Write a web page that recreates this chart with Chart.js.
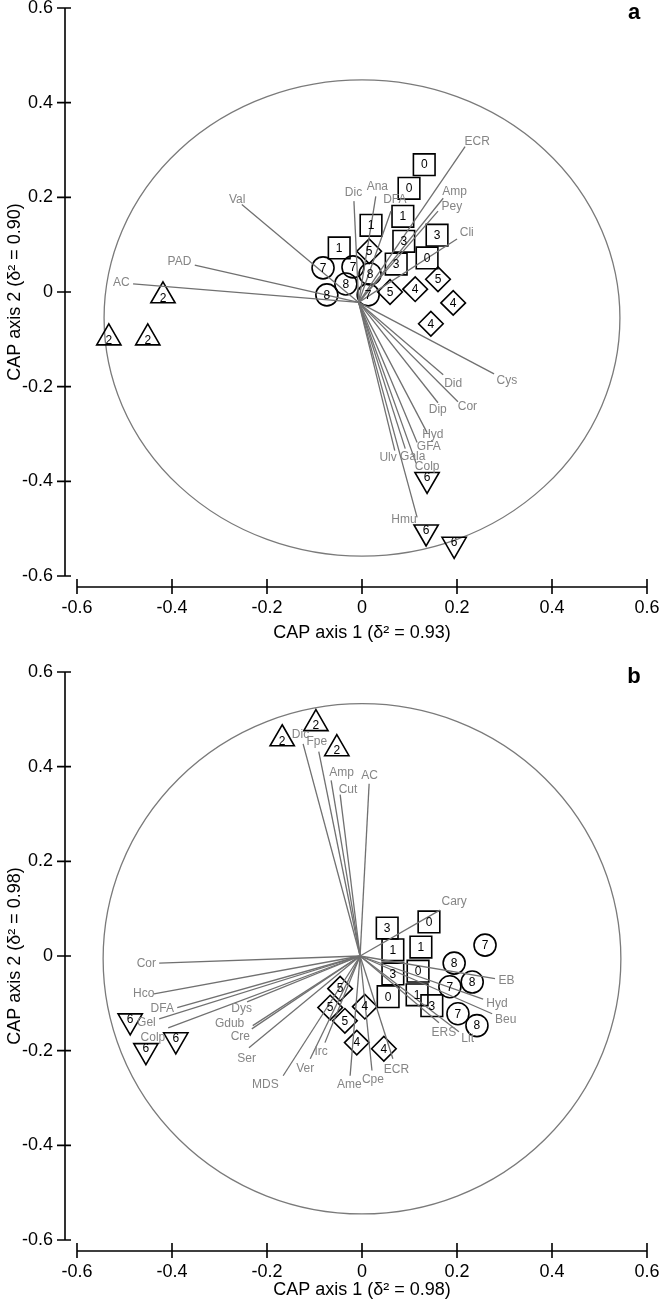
<!DOCTYPE html>
<html>
<head>
<meta charset="utf-8">
<script src="https://cdn.jsdelivr.net/npm/chart.js@4.4.1/dist/chart.umd.min.js"></script>
<style>
  html, body { margin: 0; padding: 0; background: #fff; overflow: hidden; }
  .panel { position: relative; width: 660px; }
  #panelA { height: 664px; }
  #panelB { height: 641px; }
</style>
</head>
<body>
<div class="panel" id="panelA"><canvas id="chartA"></canvas></div>
<div class="panel" id="panelB"><canvas id="chartB"></canvas></div>
<script>
// ---------- panel a ----------
var aSquareX = [0.131, 0.099, 0.086, 0.019, -0.048, 0.088, 0.158, 0.137, 0.072];
var aSquareY = [0.269, 0.219, 0.160, 0.141, 0.093, 0.107, 0.120, 0.072, 0.059];
var aSquareLab = ['0', '0', '1', '1', '1', '3', '3', '0', '3'];
var aDiamondX = [0.015, 0.059, 0.112, 0.160, 0.192, 0.145];
var aDiamondY = [0.086, 0.000, 0.006, 0.027, -0.023, -0.067];
var aDiamondLab = ['5', '5', '4', '5', '4', '4'];
var aCircleX = [-0.082, -0.019, -0.034, 0.017, -0.074, 0.013];
var aCircleY = [0.051, 0.053, 0.017, 0.038, -0.006, -0.006];
var aCircleLab = ['7', '7', '8', '8', '8', '7'];
var aTriUpX = [-0.419, -0.533, -0.451];
var aTriUpY = [-0.008, -0.097, -0.097];
var aTriUpLab = ['2', '2', '2'];
var aTriDownX = [0.137, 0.135, 0.194];
var aTriDownY = [-0.396, -0.507, -0.533];
var aTriDownLab = ['6', '6', '6'];
var aVecNames = ['Val', 'PAD', 'AC', 'Dic', 'Ana', 'DFA', 'ECR', 'Amp', 'Pey', 'Cli',
                 'Cys', 'Did', 'Cor', 'Dip', 'Hyd', 'GFA', 'Gala', 'Ulv', 'Colp', 'Hmu'];
var aVecX = [-0.253, -0.352, -0.482, -0.017, 0.029, 0.061, 0.217, 0.171, 0.160, 0.200,
             0.278, 0.171, 0.202, 0.160, 0.137, 0.116, 0.091, 0.069, 0.114, 0.116];
var aVecY = [0.185, 0.057, 0.017, 0.192, 0.202, 0.171, 0.307, 0.198, 0.171, 0.112,
             -0.173, -0.175, -0.232, -0.234, -0.297, -0.318, -0.331, -0.335, -0.362, -0.476];
var aOrigin = [-0.007, -0.022];

// ---------- panel b ----------
var bSquareX = [0.053, 0.141, 0.065, 0.124, 0.065, 0.118, 0.055, 0.116, 0.147];
var bSquareY = [0.059, 0.072, 0.013, 0.019, -0.038, -0.032, -0.086, -0.082, -0.105];
var bSquareLab = ['3', '0', '1', '1', '3', '0', '0', '1', '3'];
var bDiamondX = [-0.046, -0.067, -0.036, 0.006, -0.011, 0.046];
var bDiamondY = [-0.069, -0.109, -0.137, -0.107, -0.183, -0.196];
var bDiamondLab = ['5', '5', '5', '4', '4', '4'];
var bCircleX = [0.259, 0.194, 0.232, 0.185, 0.202, 0.242];
var bCircleY = [0.023, -0.015, -0.055, -0.065, -0.122, -0.147];
var bCircleLab = ['7', '8', '8', '7', '7', '8'];
var bTriUpX = [-0.168, -0.097, -0.053];
var bTriUpY = [0.459, 0.491, 0.438];
var bTriUpLab = ['2', '2', '2'];
var bTriDownX = [-0.488, -0.455, -0.392];
var bTriDownY = [-0.137, -0.200, -0.177];
var bTriDownLab = ['6', '6', '6'];
var bVecNames = ['Dic', 'Fpe', 'Amp', 'Cut', 'AC', 'Cary', 'EB', 'Hyd', 'Beu', 'Lit', 'ERS',
                 'ECR', 'Cpe', 'Ame', 'Irc', 'Ver', 'MDS', 'Ser', 'Cre', 'Gdub', 'Dys',
                 'Colp', 'Gel', 'DFA', 'Hco', 'Cor'];
var bVecX = [-0.124, -0.091, -0.065, -0.046, 0.015, 0.164, 0.280, 0.255, 0.274, 0.204, 0.162,
             0.065, 0.021, -0.025, -0.078, -0.109, -0.166, -0.238, -0.232, -0.230, -0.242,
             -0.408, -0.427, -0.389, -0.438, -0.427];
var bVecY = [0.448, 0.432, 0.371, 0.341, 0.364, 0.097, -0.048, -0.091, -0.122, -0.160, -0.141,
             -0.217, -0.242, -0.253, -0.183, -0.217, -0.253, -0.194, -0.154, -0.147, -0.097,
             -0.152, -0.133, -0.109, -0.080, -0.015];
var bOrigin = [-0.004, 0.0];

var FONT = "'Liberation Sans', Arial, sans-serif";

// small pixel nudges for crowded vector labels
var aNudge = { Val: [5, 3], ECR: [4, 7], Amp: [2, 5], Pey: [5, 6], Cor: [0, -5], Dip: [-8, -3],
               Hyd: [0, -9], GFA: [7, -7], Gala: [4, -3], Ulv: [-9, -3], Colp: [7, -8], Hmu: [-16, -8] };
var bNudge = { Amp: [12, 2], Cut: [9, 4], ERS: [-7, 0], Colp: [0, 4], DFA: [0, -3], Hco: [4, -3],
               Gdub: [-8, -12], Ser: [8, 2], Dys: [8, 1], MDS: [-10, -3] };

function pts(xs, ys) {
    return xs.map(function (x, i) { return { x: x, y: ys[i] }; });
}

function markerSet(xs, ys, labs, style, radius, rotation) {
    return {
        type: 'scatter',
        data: pts(xs, ys),
        numbers: labs,
        pointStyle: style,
        pointRadius: radius,
        pointRotation: rotation || 0,
        borderColor: '#000',
        backgroundColor: 'rgba(0,0,0,0)',
        borderWidth: 1.6,
        clip: false
    };
}

function vectorSets(names, xs, ys, origin) {
    return names.map(function (n, i) {
        return {
            type: 'line',
            data: [{ x: origin[0], y: origin[1] }, { x: xs[i], y: ys[i] }],
            vecLabel: n,
            borderColor: '#707070',
            borderWidth: 1.3,
            pointRadius: 0,
            fill: false,
            clip: false
        };
    });
}

// ellipse, detached axes, panel letter, labels
var decoPlugin = {
    id: 'deco',
    beforeDatasetsDraw: function (chart, args, opts) {
        var ctx = chart.ctx, x = chart.scales.x, y = chart.scales.y;
        var cx = x.getPixelForValue(opts.cx), cy = y.getPixelForValue(opts.cy);
        var rx = x.getPixelForValue(opts.cx + opts.rx) - cx;
        var ry = cy - y.getPixelForValue(opts.cy + opts.ry);
        ctx.save();
        ctx.strokeStyle = '#7a7a7a';
        ctx.lineWidth = 1.3;
        ctx.beginPath();
        ctx.ellipse(cx, cy, rx, ry, 0, 0, Math.PI * 2);
        ctx.stroke();
        ctx.restore();
    },
    afterDatasetsDraw: function (chart, args, opts) {
        var ctx = chart.ctx;
        var nudge = opts.nudge || {};
        ctx.save();
        // vector labels
        ctx.font = '12px ' + FONT;
        ctx.fillStyle = '#858585';
        ctx.textAlign = 'center';
        ctx.textBaseline = 'middle';
        chart.data.datasets.forEach(function (ds, di) {
            if (!ds.vecLabel) return;
            var m = chart.getDatasetMeta(di).data;
            var dx = m[1].x - m[0].x, dy = m[1].y - m[0].y;
            var len = Math.sqrt(dx * dx + dy * dy) || 1;
            var ux = dx / len, uy = dy / len;
            var w = ctx.measureText(ds.vecLabel).width;
            var gap = 3 + 0.5 * Math.abs(ux) * w + 0.5 * Math.abs(uy) * 10;
            var n = nudge[ds.vecLabel] || [0, 0];
            ctx.fillText(ds.vecLabel, m[1].x + ux * gap + n[0], m[1].y + uy * gap + n[1]);
        });
        // numbers inside the markers
        ctx.fillStyle = '#000';
        chart.data.datasets.forEach(function (ds, di) {
            if (!ds.numbers) return;
            var m = chart.getDatasetMeta(di).data;
            var off = ds.pointStyle === 'triangle' ? (ds.pointRotation ? -2 : 2) : 0;
            m.forEach(function (p, i) {
                ctx.fillText(ds.numbers[i], p.x, p.y + off + 0.5);
            });
        });
        ctx.restore();
    },
    afterDraw: function (chart, args, opts) {
        var ctx = chart.ctx, area = chart.chartArea;
        var x = chart.scales.x, y = chart.scales.y;
        var ax = area.left - 12, ay = area.bottom + 11;
        ctx.save();
        ctx.strokeStyle = '#000';
        ctx.lineWidth = 1.6;
        ctx.beginPath();
        ctx.moveTo(ax, y.getPixelForValue(0.6));
        ctx.lineTo(ax, y.getPixelForValue(-0.6));
        y.ticks.forEach(function (t) {
            var py = y.getPixelForValue(t.value);
            ctx.moveTo(ax - 8, py);
            ctx.lineTo(ax + 6, py);
        });
        ctx.moveTo(x.getPixelForValue(-0.6), ay);
        ctx.lineTo(x.getPixelForValue(0.6), ay);
        x.ticks.forEach(function (t) {
            var px = x.getPixelForValue(t.value);
            ctx.moveTo(px, ay - 8);
            ctx.lineTo(px, ay + 7);
        });
        ctx.stroke();
        ctx.font = 'bold 22px ' + FONT;
        ctx.fillStyle = '#000';
        ctx.textAlign = 'center';
        ctx.textBaseline = 'middle';
        ctx.fillText(opts.letter, 634, 13);
        ctx.restore();
    }
};

function fmt(v) {
    if (Math.abs(v) < 1e-9) return '0';
    return v.toFixed(1);
}

function makeChart(id, cfg) {
    var datasets = vectorSets(cfg.names, cfg.vx, cfg.vy, cfg.origin).concat([
        markerSet(cfg.sqX, cfg.sqY, cfg.sqL, 'rect', 15.3),
        markerSet(cfg.diX, cfg.diY, cfg.diL, 'rectRot', 12.3),
        markerSet(cfg.ciX, cfg.ciY, cfg.ciL, 'circle', 11),
        markerSet(cfg.tuX, cfg.tuY, cfg.tuL, 'triangle', 14),
        markerSet(cfg.tdX, cfg.tdY, cfg.tdL, 'triangle', 14, 180)
    ]);
    var tickFont = { family: FONT, size: 18 };
    return new Chart(document.getElementById(id), {
        type: 'scatter',
        data: { datasets: datasets },
        options: {
            responsive: true,
            maintainAspectRatio: false,
            animation: false,
            events: [],
            layout: { autoPadding: false, padding: { top: 8, right: 13, bottom: cfg.padBottom, left: 0 } },
            scales: {
                x: {
                    type: 'linear',
                    min: -0.6,
                    max: 0.6,
                    grid: { display: false, drawTicks: false },
                    border: { display: false },
                    ticks: { stepSize: 0.2, padding: 21, color: '#000', font: tickFont, maxRotation: 0, callback: fmt },
                    title: { display: true, text: cfg.xTitle, color: '#000', font: tickFont, padding: { top: 2, bottom: 4 } },
                    afterFit: function (s) { s.height = cfg.xHeight; s.paddingLeft = 0; s.paddingRight = 0; }
                },
                y: {
                    type: 'linear',
                    min: -0.6,
                    max: 0.6,
                    grid: { display: false, drawTicks: false },
                    border: { display: false },
                    ticks: { stepSize: 0.2, padding: 24, color: '#000', font: tickFont, callback: fmt },
                    title: { display: true, text: cfg.yTitle, color: '#000', font: tickFont, padding: { top: 4, bottom: 2 } },
                    afterFit: function (s) { s.width = 77; s.paddingTop = 0; s.paddingBottom = 0; }
                }
            },
            plugins: {
                legend: { display: false },
                tooltip: { enabled: false },
                deco: cfg.deco
            }
        },
        plugins: [decoPlugin]
    });
}

document.addEventListener('DOMContentLoaded', function () {
    makeChart('chartA', {
        names: aVecNames, vx: aVecX, vy: aVecY, origin: aOrigin,
        sqX: aSquareX, sqY: aSquareY, sqL: aSquareLab,
        diX: aDiamondX, diY: aDiamondY, diL: aDiamondLab,
        ciX: aCircleX, ciY: aCircleY, ciL: aCircleLab,
        tuX: aTriUpX, tuY: aTriUpY, tuL: aTriUpLab,
        tdX: aTriDownX, tdY: aTriDownY, tdL: aTriDownLab,
        xTitle: 'CAP axis 1 (δ² = 0.93)',
        yTitle: 'CAP axis 2 (δ² = 0.90)',
        xHeight: 72, padBottom: 16,
        deco: { letter: 'a', cx: 0, cy: -0.055, rx: 0.543, ry: 0.503, nudge: aNudge }
    });
    makeChart('chartB', {
        names: bVecNames, vx: bVecX, vy: bVecY, origin: bOrigin,
        sqX: bSquareX, sqY: bSquareY, sqL: bSquareLab,
        diX: bDiamondX, diY: bDiamondY, diL: bDiamondLab,
        ciX: bCircleX, ciY: bCircleY, ciL: bCircleLab,
        tuX: bTriUpX, tuY: bTriUpY, tuL: bTriUpLab,
        tdX: bTriDownX, tdY: bTriDownY, tdL: bTriDownLab,
        xTitle: 'CAP axis 1 (δ² = 0.98)',
        yTitle: 'CAP axis 2 (δ² = 0.98)',
        xHeight: 65, padBottom: 0,
        deco: { letter: 'b', cx: 0, cy: -0.006, rx: 0.545, ry: 0.539, nudge: bNudge }
    });
});
</script>
</body>
</html>
